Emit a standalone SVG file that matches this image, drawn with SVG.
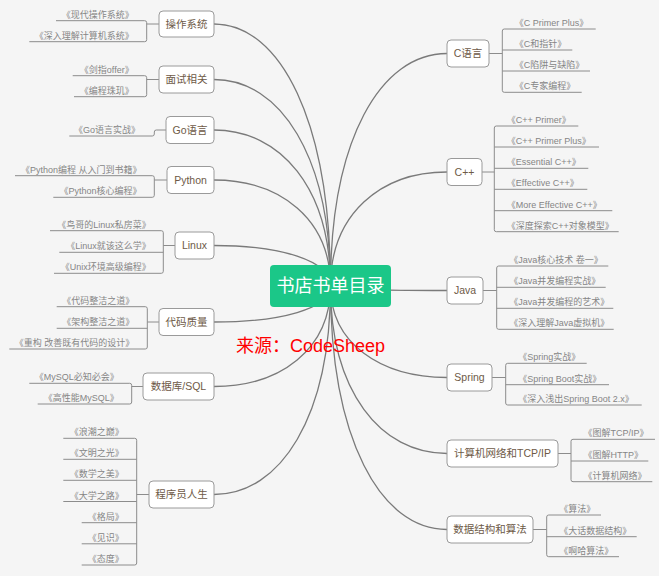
<svg xmlns="http://www.w3.org/2000/svg" width="659" height="576" viewBox="0 0 659 576">
<style>
.bg{fill:#f5f5f5}
.box{fill:#ffffff;stroke:#9a9a9a;stroke-width:1}
.lbl{font-family:"Liberation Sans","Noto Sans CJK SC",sans-serif;font-size:10.5px;fill:#6e5a47;text-anchor:middle}
.leaf{font-family:"Liberation Sans","Noto Sans CJK SC",sans-serif;font-size:9px;fill:#858585}
.l{text-anchor:end}
.r{text-anchor:start}
.curve{fill:none;stroke:#7a7a7a;stroke-width:1.3}
.br{fill:none;stroke:#8c8c8c;stroke-width:1}
.rootbox{fill:#1bc788}
.rootlbl{font-family:"Liberation Sans","Noto Sans CJK SC",sans-serif;font-size:18px;fill:#ffffff;text-anchor:middle}
.src{font-family:"Liberation Sans","Noto Sans CJK SC",sans-serif;font-size:18px;fill:#ff0000}
</style>
<rect class="bg" x="0" y="0" width="659" height="576"/>

<g id="connectors">
  <g id="main-curves">
    <path class="curve" d="M214,24 C280.4,24 330.5,120.9 330.5,286"/>
    <path class="curve" d="M214,79.5 C280.4,79.5 330.5,155.9 330.5,286"/>
    <path class="curve" d="M214,130 C280.4,130 330.5,187.7 330.5,286"/>
    <path class="curve" d="M214,180 C280.4,180 330.5,219.2 330.5,286"/>
    <path class="curve" d="M214,245.5 C280.4,245.5 330.5,260.5 330.5,286"/>
    <path class="curve" d="M214,322 C280.4,322 330.5,308.7 330.5,286"/>
    <path class="curve" d="M214,386.5 C280.4,386.5 330.5,349.3 330.5,286"/>
    <path class="curve" d="M214,494.5 C280.4,494.5 330.5,417.4 330.5,286"/>
    <path class="curve" d="M447,53.5 C380.6,53.5 330.5,139.5 330.5,286"/>
    <path class="curve" d="M447,172 C380.6,172 330.5,214.2 330.5,286"/>
    <path class="curve" d="M447,290.5 C380.6,290.5 330.5,288.8 330.5,286"/>
    <path class="curve" d="M447,377.5 C380.6,377.5 330.5,343.6 330.5,286"/>
    <path class="curve" d="M447,453.5 C380.6,453.5 330.5,391.5 330.5,286"/>
    <path class="curve" d="M447,529.5 C380.6,529.5 330.5,439.4 330.5,286"/>
  </g>
  <g id="leaf-lines">
    <path class="br" d="M159,24 H146.7 M146.7,22.7 V39.7 M56,20.7 H144.7 Q146.7,20.7 146.7,22.7 M29.3,41.7 H144.7 Q146.7,41.7 146.7,39.7"/>
    <path class="br" d="M159,79.5 H146.7 M146.7,77.7 V94.7 M72.7,75.7 H144.7 Q146.7,75.7 146.7,77.7 M74,96.7 H144.7 Q146.7,96.7 146.7,94.7"/>
    <path class="br" d="M69.3,136 H152.3 Q154.3,136 154.3,134 V132 Q154.3,130 156.3,130 H166"/>
    <path class="br" d="M167,180 H154.3 M154.3,177.7 V195.3 M15,175.7 H152.3 Q154.3,175.7 154.3,177.7 M53.3,197.3 H152.3 Q154.3,197.3 154.3,195.3"/>
    <path class="br" d="M175,245.5 H163.3 M163.3,232.7 V271.3 M50,230.7 H161.3 Q163.3,230.7 163.3,232.7 M59.3,252.3 H163.3 M54,273.3 H161.3 Q163.3,273.3 163.3,271.3"/>
    <path class="br" d="M159,322 H147.3 M147.3,308.7 V347 M56.7,306.7 H145.3 Q147.3,306.7 147.3,308.7 M56.7,328.3 H147.3 M9.3,349 H145.3 Q147.3,349 147.3,347"/>
    <path class="br" d="M143,386.5 H131.7 M131.7,385.3 V402 M29.3,383.3 H129.7 Q131.7,383.3 131.7,385.3 M37.7,404 H129.7 Q131.7,404 131.7,402"/>
    <path class="br" d="M149,494.5 H136.7 M136.7,440.3 V563 M63.3,438.3 H134.7 Q136.7,438.3 136.7,440.3 M63.3,459.3 H136.7 M63.3,480.3 H136.7 M63.3,501.5 H136.7 M81.7,522.7 H136.7 M81.7,543.8 H136.7 M81.7,565 H134.7 Q136.7,565 136.7,563"/>
    <path class="br" d="M489,53.5 H502.3 M502.3,31 V90.3 M595.7,29 H504.3 Q502.3,29 502.3,31 M572.3,50 H502.3 M590,71 H502.3 M581.7,92.3 H504.3 Q502.3,92.3 502.3,90.3"/>
    <path class="br" d="M482,172 H494.3 M494.3,128 V229.7 M578.3,126 H496.3 Q494.3,126 494.3,128 M599,147 H494.3 M588.3,168.3 H494.3 M587.3,189.3 H494.3 M612.3,210.7 H494.3 M618.7,231.7 H496.3 Q494.3,231.7 494.3,229.7"/>
    <path class="br" d="M483,290.5 H496.7 M496.7,268 V327.3 M608.3,266 H498.7 Q496.7,266 496.7,268 M605.7,287.3 H496.7 M613.3,308.3 H496.7 M613.7,329.3 H498.7 Q496.7,329.3 496.7,327.3"/>
    <path class="br" d="M492,377.5 H505.7 M505.7,365.3 V403 M586.7,363.3 H507.7 Q505.7,363.3 505.7,365.3 M609,384.7 H505.7 M641.7,405 H507.7 Q505.7,405 505.7,403"/>
    <path class="br" d="M558,453.5 H571 M571,441.3 V479.7 M655,439.3 H573 Q571,439.3 571,441.3 M648.3,461 H571 M652.3,481.7 H573 Q571,481.7 571,479.7"/>
    <path class="br" d="M533,529.5 H546.7 M546.7,517 V554.7 M601,515 H548.7 Q546.7,515 546.7,517 M636.7,536.7 H546.7 M619,556.7 H548.7 Q546.7,556.7 546.7,554.7"/>
  </g>
</g>

<g id="root">
  <rect class="rootbox" x="270" y="265" width="121" height="42" rx="4"/>
  <text class="rootlbl" x="330.5" y="292.3">书店书单目录</text>
</g>

<text id="source" class="src" x="236" y="352">来源：CodeSheep</text>

<g id="node-os">
  <rect class="box" x="159" y="11" width="55" height="26" rx="4"/>
  <text class="lbl" x="186.5" y="27.7">操作系统</text>
  <text class="leaf l" x="133.7" y="17.7">《现代操作系统》</text>
  <text class="leaf l" x="133.7" y="38.7">《深入理解计算机系统》</text>
</g>

<g id="node-interview">
  <rect class="box" x="159" y="66" width="55" height="27" rx="4"/>
  <text class="lbl" x="186.5" y="83.2">面试相关</text>
  <text class="leaf l" x="133.7" y="72.7">《剑指offer》</text>
  <text class="leaf l" x="133.7" y="93.7">《编程珠玑》</text>
</g>

<g id="node-go">
  <rect class="box" x="166" y="116.5" width="48" height="27" rx="4"/>
  <text class="lbl" x="190" y="133.7">Go语言</text>
  <text class="leaf l" x="140" y="133">《Go语言实战》</text>
</g>

<g id="node-python">
  <rect class="box" x="167" y="166.5" width="47" height="27" rx="4"/>
  <text class="lbl" x="190.5" y="183.7">Python</text>
  <text class="leaf l" x="141.5" y="172.7">《Python编程 从入门到书籍》</text>
  <text class="leaf l" x="141.5" y="194.3">《Python核心编程》</text>
</g>

<g id="node-linux">
  <rect class="box" x="175" y="232" width="39" height="27" rx="4"/>
  <text class="lbl" x="194.5" y="249.2">Linux</text>
  <text class="leaf l" x="150.8" y="227.7">《鸟哥的Linux私房菜》</text>
  <text class="leaf l" x="150.8" y="249.3">《Linux就该这么学》</text>
  <text class="leaf l" x="150.8" y="270.3">《Unix环境高级编程》</text>
</g>

<g id="node-quality">
  <rect class="box" x="159" y="308.5" width="55" height="27" rx="4"/>
  <text class="lbl" x="186.5" y="325.7">代码质量</text>
  <text class="leaf l" x="134.3" y="303.7">《代码整洁之道》</text>
  <text class="leaf l" x="134.3" y="325.3">《架构整洁之道》</text>
  <text class="leaf l" x="134.3" y="346">《重构 改善既有代码的设计》</text>
</g>

<g id="node-db">
  <rect class="box" x="143" y="373" width="71" height="27" rx="4"/>
  <text class="lbl" x="178.5" y="390.2">数据库/SQL</text>
  <text class="leaf l" x="118.7" y="380.3">《MySQL必知必会》</text>
  <text class="leaf l" x="118.7" y="401">《高性能MySQL》</text>
</g>

<g id="node-life">
  <rect class="box" x="149" y="481" width="65" height="27" rx="4"/>
  <text class="lbl" x="181.5" y="498.2">程序员人生</text>
  <text class="leaf l" x="123.7" y="435.3">《浪潮之巅》</text>
  <text class="leaf l" x="123.7" y="456.3">《文明之光》</text>
  <text class="leaf l" x="123.7" y="477.3">《数学之美》</text>
  <text class="leaf l" x="123.7" y="498.5">《大学之路》</text>
  <text class="leaf l" x="123.7" y="519.7">《格局》</text>
  <text class="leaf l" x="123.7" y="540.8">《见识》</text>
  <text class="leaf l" x="123.7" y="562">《态度》</text>
</g>

<g id="node-c">
  <rect class="box" x="447" y="40" width="42" height="27" rx="4"/>
  <text class="lbl" x="468" y="57.2">C语言</text>
  <text class="leaf r" x="514.8" y="26">《C Primer Plus》</text>
  <text class="leaf r" x="514.8" y="47">《C和指针》</text>
  <text class="leaf r" x="514.8" y="68">《C陷阱与缺陷》</text>
  <text class="leaf r" x="514.8" y="89.3">《C专家编程》</text>
</g>

<g id="node-cpp">
  <rect class="box" x="447" y="158.5" width="35" height="27" rx="4"/>
  <text class="lbl" x="464.5" y="175.7">C++</text>
  <text class="leaf r" x="506.8" y="123">《C++ Primer》</text>
  <text class="leaf r" x="506.8" y="144">《C++ Primer Plus》</text>
  <text class="leaf r" x="506.8" y="165.3">《Essential C++》</text>
  <text class="leaf r" x="506.8" y="186.3">《Effective C++》</text>
  <text class="leaf r" x="506.8" y="207.7">《More Effective C++》</text>
  <text class="leaf r" x="506.8" y="228.7">《深度探索C++对象模型》</text>
</g>

<g id="node-java">
  <rect class="box" x="447" y="277" width="36" height="27" rx="4"/>
  <text class="lbl" x="465" y="294.2">Java</text>
  <text class="leaf r" x="509.2" y="263">《Java核心技术 卷一》</text>
  <text class="leaf r" x="509.2" y="284.3">《Java并发编程实战》</text>
  <text class="leaf r" x="509.2" y="305.3">《Java并发编程的艺术》</text>
  <text class="leaf r" x="509.2" y="326.3">《深入理解Java虚拟机》</text>
</g>

<g id="node-spring">
  <rect class="box" x="447" y="364" width="45" height="27" rx="4"/>
  <text class="lbl" x="469.5" y="381.2">Spring</text>
  <text class="leaf r" x="518.2" y="360.3">《Spring实战》</text>
  <text class="leaf r" x="518.2" y="381.7">《Spring Boot实战》</text>
  <text class="leaf r" x="518.2" y="402">《深入浅出Spring Boot 2.x》</text>
</g>

<g id="node-network">
  <rect class="box" x="447" y="440" width="111" height="27" rx="4"/>
  <text class="lbl" x="502.5" y="457.2">计算机网络和TCP/IP</text>
  <text class="leaf r" x="583.5" y="436.3">《图解TCP/IP》</text>
  <text class="leaf r" x="583.5" y="458">《图解HTTP》</text>
  <text class="leaf r" x="583.5" y="478.7">《计算机网络》</text>
</g>

<g id="node-algo">
  <rect class="box" x="447" y="516" width="86" height="27" rx="4"/>
  <text class="lbl" x="490" y="533.2">数据结构和算法</text>
  <text class="leaf r" x="559.2" y="512">《算法》</text>
  <text class="leaf r" x="559.2" y="533.7">《大话数据结构》</text>
  <text class="leaf r" x="559.2" y="553.7">《啊哈算法》</text>
</g>
</svg>
